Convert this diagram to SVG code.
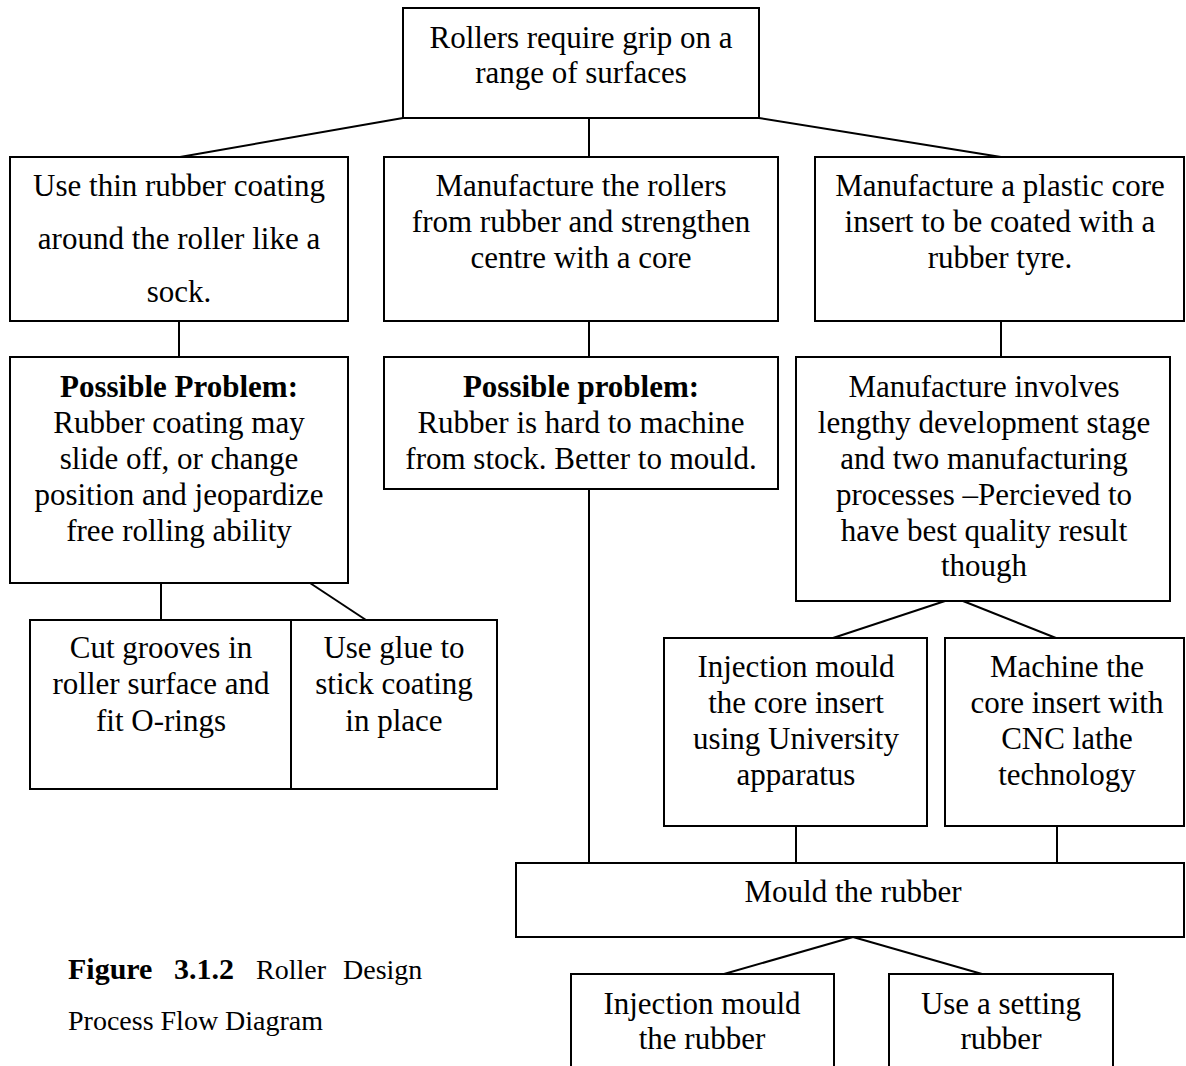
<svg xmlns="http://www.w3.org/2000/svg" width="1186" height="1066" viewBox="0 0 1186 1066">
<style>
rect{fill:#fff;stroke:#000;stroke-width:2}
.c line{stroke:#000;stroke-width:2}
text{font-family:"Liberation Serif","Times New Roman",serif;font-size:31px;fill:#000;text-anchor:middle}
.b{font-weight:bold}
.cap{font-size:28px;text-anchor:start}
.capb{font-size:30px}
</style>
<rect x="0" y="0" width="1186" height="1066" style="stroke:none"/>
<g class="c" id="connectors">
<line x1="403" y1="118" x2="180" y2="157"/>
<line x1="589" y1="118" x2="589" y2="157"/>
<line x1="759" y1="118" x2="1001" y2="157"/>
<line x1="179" y1="321" x2="179" y2="357"/>
<line x1="589" y1="321" x2="589" y2="357"/>
<line x1="1001" y1="321" x2="1001" y2="357"/>
<line x1="161" y1="583" x2="161" y2="620"/>
<line x1="310" y1="583" x2="366" y2="620"/>
<line x1="589" y1="489" x2="589" y2="863"/>
<line x1="945" y1="601" x2="833" y2="638"/>
<line x1="963" y1="601" x2="1056" y2="638"/>
<line x1="796" y1="826" x2="796" y2="863"/>
<line x1="1057" y1="826" x2="1057" y2="863"/>
<line x1="853" y1="937" x2="724" y2="974"/>
<line x1="853" y1="937" x2="982" y2="974"/>
</g>
<g id="n-top"><rect x="403" y="8" width="356" height="110"/>
<text x="581" y="48">Rollers require grip on a</text><text x="581" y="83">range of surfaces</text></g>
<g id="n-sock"><rect x="10" y="157" width="338" height="164"/>
<text x="179" y="196">Use thin rubber coating</text><text x="179" y="249">around the roller like a</text><text x="179" y="302">sock.</text></g>
<g id="n-core"><rect x="384" y="157" width="394" height="164"/>
<text x="581" y="196">Manufacture the rollers</text><text x="581" y="232">from rubber and strengthen</text><text x="581" y="268">centre with a core</text></g>
<g id="n-plastic"><rect x="815" y="157" width="369" height="164"/>
<text x="1000" y="196">Manufacture a plastic core</text><text x="1000" y="232">insert to be coated with a</text><text x="1000" y="268">rubber tyre.</text></g>
<g id="n-prob1"><rect x="10" y="357" width="338" height="226"/>
<text x="179" y="397" class="b">Possible Problem:</text><text x="179" y="433">Rubber coating may</text><text x="179" y="469">slide off, or change</text><text x="179" y="505">position and jeopardize</text><text x="179" y="541">free rolling ability</text></g>
<g id="n-prob2"><rect x="384" y="357" width="394" height="132"/>
<text x="581" y="397" class="b">Possible problem:</text><text x="581" y="433">Rubber is hard to machine</text><text x="581" y="469">from stock. Better to mould.</text></g>
<g id="n-lengthy"><rect x="796" y="357" width="374" height="244"/>
<text x="984" y="397">Manufacture involves</text><text x="984" y="433">lengthy development stage</text><text x="984" y="469">and two manufacturing</text><text x="984" y="505">processes –Percieved to</text><text x="984" y="541">have best quality result</text><text x="984" y="576">though</text></g>
<g id="n-grooves"><rect x="30" y="620" width="261" height="169"/>
<text x="161" y="658">Cut grooves in</text><text x="161" y="694">roller surface and</text><text x="161" y="731">fit O-rings</text></g>
<g id="n-glue"><rect x="291" y="620" width="206" height="169"/>
<text x="394" y="658">Use glue to</text><text x="394" y="694">stick coating</text><text x="394" y="731">in place</text></g>
<g id="n-injcore"><rect x="664" y="638" width="263" height="188"/>
<text x="796" y="677">Injection mould</text><text x="796" y="713">the core insert</text><text x="796" y="749">using University</text><text x="796" y="785">apparatus</text></g>
<g id="n-cnc"><rect x="945" y="638" width="239" height="188"/>
<text x="1067" y="677">Machine the</text><text x="1067" y="713">core insert with</text><text x="1067" y="749">CNC lathe</text><text x="1067" y="785">technology</text></g>
<g id="n-mould"><rect x="516" y="863" width="668" height="74"/>
<text x="853" y="902">Mould the rubber</text></g>
<g id="n-injrub"><rect x="571" y="974" width="263" height="100"/>
<text x="702" y="1014">Injection mould</text><text x="702" y="1049">the rubber</text></g>
<g id="n-setting"><rect x="889" y="974" width="224" height="100"/>
<text x="1001" y="1014">Use a setting</text><text x="1001" y="1049">rubber</text></g>
<g id="caption">
<text class="cap b capb" x="68" y="979">Figure</text><text class="cap b capb" x="174" y="979">3.1.2</text><text class="cap" x="256" y="979">Roller</text><text class="cap" x="343" y="979">Design</text>
<text class="cap" x="68" y="1030">Process Flow Diagram</text>
</g>
</svg>
